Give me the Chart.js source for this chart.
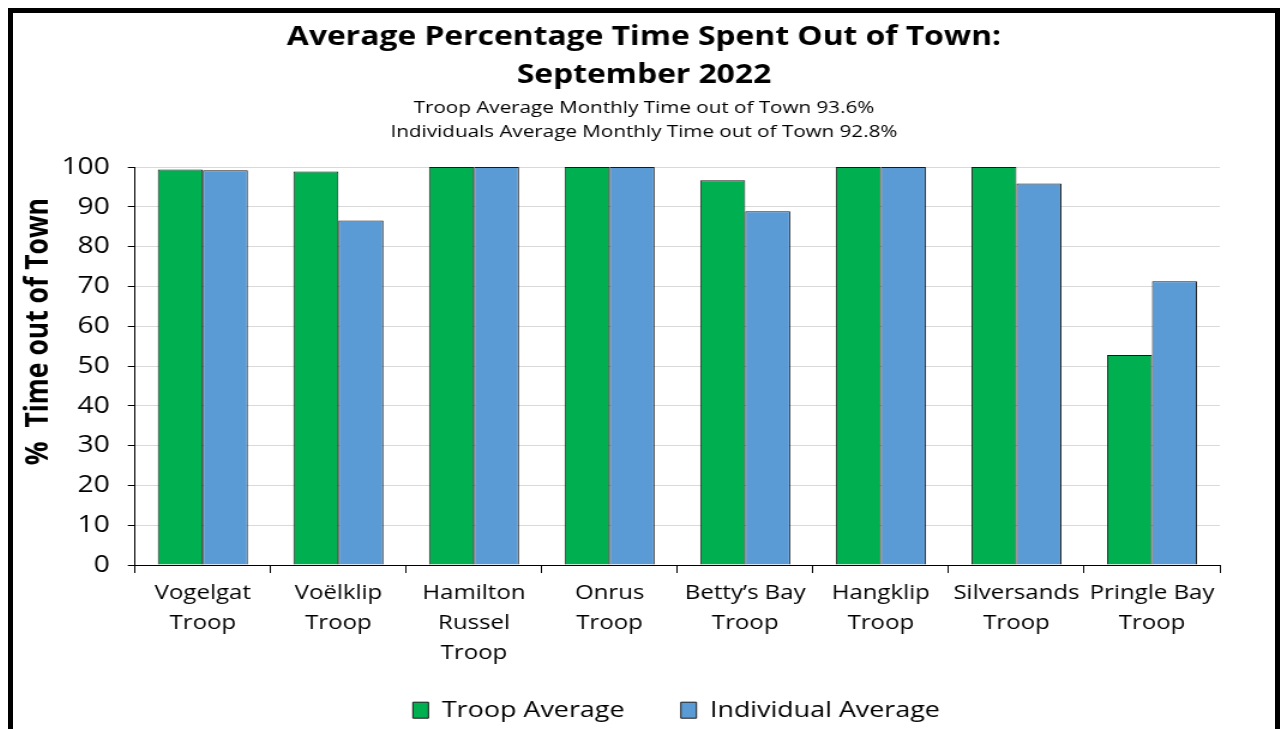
<!DOCTYPE html>
<html>
<head>
<meta charset="utf-8">
<script src="https://cdn.jsdelivr.net/npm/chart.js@4/dist/chart.umd.min.js"></script>
<style>
  body { margin: 0; background: #fff; overflow: hidden; }
  #frame {
    position: absolute; left: 8px; top: 8px;
    width: 1262px; height: 740px;
    border: 5px solid #000; background: #fff;
  }
  /* the reference is a horizontally stretched picture, so stretch the canvas the same way */
  #c { display: block; width: 1262px; height: 716px; }
</style>
</head>
<body>
<div id="frame"><canvas id="c" width="1052" height="716" style="width:1262px;height:716px"></canvas></div>
<script>
// chart data
const troops = [
  ["Vogelgat", "Troop"],
  ["Voëlklip", "Troop"],
  ["Hamilton", "Russel", "Troop"],
  ["Onrus", "Troop"],
  ["Betty’s Bay", "Troop"],
  ["Hangklip", "Troop"],
  ["Silversands", "Troop"],
  ["Pringle Bay", "Troop"]
];
const troopAvg = [99.4, 98.9, 100, 100, 96.7, 100, 100, 52.8];
const individualAvg = [99.2, 86.6, 100, 100, 88.9, 100, 95.9, 71.3];
const titleLines = ["Average Percentage Time Spent Out of Town:", "September 2022"];
const subtitleLines = [
  "Troop Average Monthly Time out of Town 93.6%",
  "Individuals Average Monthly Time out of Town 92.8%"
];
const yTitle = "%  Time out of Town";

const font = "'Open Sans', 'Liberation Sans', sans-serif";
Chart.defaults.font.family = font;
Chart.defaults.color = "#000";

// move the legend a bit (excel puts it off centre)
const legendShift = {
  id: "legendShift",
  afterLayout(chart) {
    const lg = chart.legend;
    lg.top -= 21;
    lg.left += 27; lg.right += 27;
  }
};

const ctx = document.getElementById("c");
new Chart(ctx, {
  type: "bar",
  data: {
    labels: troops,
    datasets: [
      {
        label: "Troop Average",
        data: troopAvg,
        backgroundColor: "#00B050",
        borderColor: "#1a1a1a",
        borderWidth: 1,
        barPercentage: 1,
        categoryPercentage: 0.664
      },
      {
        label: "Individual Average",
        data: individualAvg,
        backgroundColor: "#5B9BD5",
        borderColor: "#1a1a1a",
        borderWidth: 1,
        barPercentage: 1,
        categoryPercentage: 0.664
      }
    ]
  },
  plugins: [legendShift],
  options: {
    responsive: false,
    animation: false,
    layout: { padding: 0 },
    plugins: {
      title: {
        display: true,
        text: titleLines,
        font: { size: 26.5, weight: "bold", lineHeight: 1.47 },
        padding: { top: 4.5, bottom: 0.5 }
      },
      subtitle: {
        display: true,
        text: subtitleLines,
        font: { size: 17.2, lineHeight: 1.4 },
        padding: { top: 0, bottom: 23 }
      },
      legend: {
        position: "bottom",
        maxHeight: 56,
        labels: {
          font: { size: 22.4 },
          boxWidth: 13,
          boxHeight: 16,
          padding: 47
        }
      },
      tooltip: { enabled: false }
    },
    scales: {
      x: {
        grid: {
          display: true,
          drawOnChartArea: false,
          tickColor: "#000",
          tickLength: 8
        },
        border: { color: "#000", width: 1 },
        ticks: {
          font: { size: 20, lineHeight: 1.5 },
          maxRotation: 0,
          autoSkip: false,
          padding: 5
        }
      },
      y: {
        min: 0,
        max: 100,
        afterFit: (s) => { s.width = 101.7; },
        ticks: { stepSize: 10, font: { size: 23.5 }, padding: 15 },
        grid: {
          color: "#d9d9d9",
          tickColor: "#000",
          tickLength: 6
        },
        border: { color: "#000", width: 1 },
        title: {
          display: true,
          // leading spaces push the title up a little, like in the original
          text: " ".repeat(10) + yTitle,
          font: { size: 26.5, weight: "bold", lineHeight: 1.2 },
          padding: { top: 6, bottom: 0 }
        }
      },
      // empty right axis, only keeps the gap on the right side
      yRight: {
        position: "right",
        afterFit: (s) => { s.width = 46; },
        grid: { display: false },
        border: { display: false },
        ticks: { display: false }
      }
    }
  }
});
</script>
</body>
</html>
